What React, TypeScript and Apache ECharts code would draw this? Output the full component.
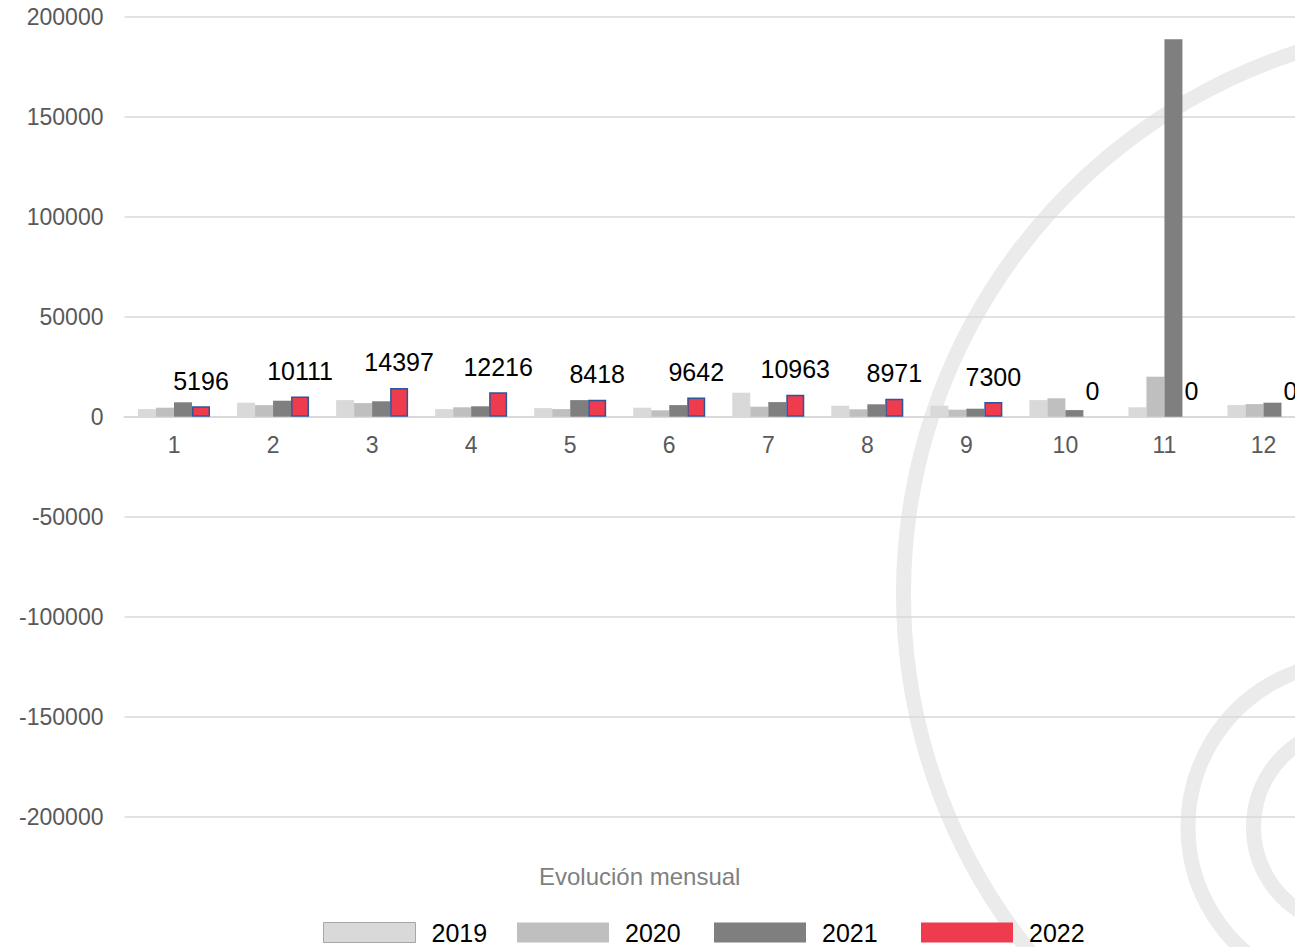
import React, { useEffect, useRef } from "react";
import * as echarts from "echarts";

const months = ["1", "2", "3", "4", "5", "6", "7", "8", "9", "10", "11", "12"];
const years = ["2019", "2020", "2021", "2022"];
const v2019 = [3800, 7000, 8300, 3800, 4300, 4500, 12000, 5500, 5500, 8300, 4700, 5800];
const v2020 = [4500, 5800, 6800, 4700, 3800, 3200, 5000, 3700, 3500, 9200, 20000, 6300];
const v2021 = [7200, 8000, 7700, 5200, 8300, 5800, 7300, 6200, 4000, 3300, 188700, 7000];
const v2022 = [5196, 10111, 14397, 12216, 8418, 9642, 10963, 8971, 7300, 0, 0, 0];
const axisTitle = "Evolución mensual";

const FONT = "'Liberation Sans', Arial, sans-serif";
const colors = ["#D9D9D9", "#BFBFBF", "#7F7F7F", "#EE3B4E"];
const legendLefts = [323, 517, 714, 921];

export default function App() {
  const ref = useRef<HTMLDivElement>(null);
  useEffect(() => {
    if (!ref.current) return;
    const chart = echarts.init(ref.current, undefined, { renderer: "svg" });
    const seriesData = [v2019, v2020, v2021, v2022];
    const ring = (cx: number, cy: number, r: number) => ({
      type: "circle",
      z: -10,
      silent: true,
      shape: { cx, cy, r },
      style: { fill: "none", stroke: "#EBEBEB", lineWidth: 15 },
    });
    chart.setOption({
      animation: false,
      textStyle: { fontFamily: FONT },
      graphic: [ring(1473, 594, 569.5), ring(1353, 827, 165), ring(1353, 827, 99.5)],
      title: {
        text: axisTitle,
        left: 539,
        top: 864,
        padding: 0,
        textStyle: { fontSize: 24, fontWeight: "normal", color: "#7F7F7F", fontFamily: FONT },
      },
      legend: years.map((y, i) => ({
        left: legendLefts[i],
        top: 920,
        padding: 0,
        itemWidth: 92,
        itemHeight: 20,
        itemGap: 0,
        icon: "rect",
        textStyle: { fontSize: 25, color: "#000", fontFamily: FONT, padding: [0, 0, 0, 11] },
        data: [
          {
            name: y,
            itemStyle:
              i === 0
                ? { borderColor: "#A6A6A6", borderWidth: 1 }
                : { borderWidth: 0 },
          },
        ],
      })),
      grid: { left: 124.5, right: 0, top: 16.7, bottom: 130.3, containLabel: false },
      xAxis: {
        type: "category",
        data: months,
        position: "bottom",
        offset: -400,
        axisLine: { onZero: false, lineStyle: { color: "#D9D9D9", width: 2 } },
        axisTick: { show: false },
        axisLabel: { fontSize: 23, color: "#595959", margin: 17, fontFamily: FONT },
      },
      yAxis: {
        type: "value",
        min: -200000,
        max: 200000,
        interval: 50000,
        axisLine: { show: false },
        axisTick: { show: false },
        axisLabel: {
          fontSize: 23,
          color: "#595959",
          margin: 21,
          fontFamily: FONT,
          formatter: (v: number) => String(v),
        },
        splitLine: { lineStyle: { color: "#D9D9D9", width: 1.5 } },
      },
      series: years.map((y, i) => ({
        name: y,
        type: "bar",
        barWidth: 18,
        barGap: "0%",
        itemStyle:
          i === 3
            ? { color: colors[i], borderColor: "#2F5597", borderWidth: 1.5 }
            : { color: colors[i] },
        label:
          i === 3
            ? {
                show: true,
                position: "top",
                distance: 13,
                fontSize: 25,
                color: "#000",
                fontFamily: FONT,
              }
            : { show: false },
        data:
          i === 3
            ? seriesData[i].map((v) => (v === 0 ? { value: v, itemStyle: { borderWidth: 0 } } : v))
            : seriesData[i],
      })),
    });
    return () => chart.dispose();
  }, []);
  return (
    <div
      style={{
        position: "absolute",
        left: 0,
        top: 0,
        width: 1295,
        height: 947,
        overflow: "hidden",
        background: "#fff",
      }}
    >
      <div ref={ref} style={{ width: 1313, height: 947 }} />
    </div>
  );
}
